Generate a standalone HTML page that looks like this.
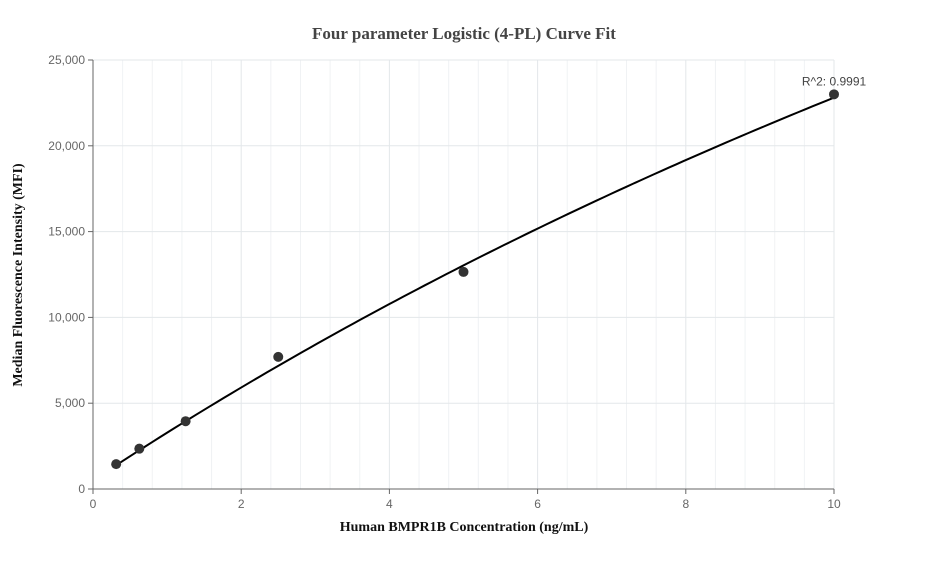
<!DOCTYPE html>
<html><head><meta charset="utf-8"><style>
body{margin:0;background:#fff;}
svg text{font-family:"Liberation Sans",sans-serif;}
</style></head><body>
<svg width="927" height="560" xmlns="http://www.w3.org/2000/svg">
<text x="464" y="39" text-anchor="middle" style="font-family:'Liberation Serif',serif;font-weight:bold;font-size:17px" fill="#444">Four parameter Logistic (4-PL) Curve Fit</text>
<g id="grid"></g><g id="axes"></g><g id="marks"></g>
<text x="464" y="531" text-anchor="middle" style="font-family:'Liberation Serif',serif;font-weight:bold;font-size:14px" fill="#111">Human BMPR1B Concentration (ng/mL)</text>
<text transform="translate(22,275) rotate(-90)" text-anchor="middle" style="font-family:'Liberation Serif',serif;font-weight:bold;font-size:14px" fill="#111">Median Fluorescence Intensity (MFI)</text>
</svg>
<script>
const xData=[0.3125,0.625,1.25,2.5,5,10];
const yData=[1450,2350,3950,7700,12650,23000];
const xTicks=[0,2,4,6,8,10];
const yTicks=[0,5000,10000,15000,20000,25000];
const fitParams=[500,102000,35.5,1];// A(bottom), D(top), C, B
const r2Label="R^2: 0.9991";
const ns="http://www.w3.org/2000/svg";
const X0=93,X1=834,Y0=489,Y1=60;
const sx=v=>X0+(v-0)/(10-0)*(X1-X0);
const sy=v=>Y0-(v-0)/(25000-0)*(Y0-Y1);
function mk(t,a,p){const e=document.createElementNS(ns,t);for(const k in a)e.setAttribute(k,a[k]);p.appendChild(e);return e;}
const grid=document.getElementById('grid'),axes=document.getElementById('axes'),marks=document.getElementById('marks');
for(let i=0;i<25;i++){const v=i*0.4;if(Math.abs(v%2)<1e-6)continue;const l=mk('line',{x1:sx(v),x2:sx(v),y1:Y1,y2:Y0,stroke:'#f0f2f4','stroke-width':1},grid);
}
xTicks.forEach(v=>{if(v>0){const l=mk('line',{x1:sx(v),x2:sx(v),y1:Y1,y2:Y0,stroke:'#e3e7ea','stroke-width':1},grid);
}
mk('line',{x1:sx(v),x2:sx(v),y1:Y0,y2:Y0+5,stroke:'#666'},axes);
const t=mk('text',{x:sx(v),y:Y0+19,'text-anchor':'middle','font-size':12,fill:'#666'},axes);t.textContent=v;
});
yTicks.forEach(v=>{if(v>0){const l=mk('line',{x1:X0,x2:X1,y1:sy(v),y2:sy(v),stroke:'#e3e7ea','stroke-width':1},grid);
}
mk('line',{x1:X0-5,x2:X0,y1:sy(v),y2:sy(v),stroke:'#666'},axes);
const t=mk('text',{x:X0-8,y:sy(v)+4,'text-anchor':'end','font-size':12,fill:'#666'},axes);t.textContent=v.toLocaleString('en-US');
});
const ya=mk('line',{x1:X0,x2:X0,y1:Y1,y2:Y0,stroke:'#666'},axes);
const xa=mk('line',{x1:X0,x2:X1,y1:Y0,y2:Y0,stroke:'#666'},axes);
const [A,D,C,B]=fitParams;const f=x=>D+(A-D)/(1+Math.pow(x/C,B));
let d='';const x0=xData[0],xn=xData[xData.length-1];
for(let i=0;i<=100;i++){const x=x0+(xn-x0)*i/100;d+=(i?'L':'M')+sx(x).toFixed(2)+','+sy(f(x)).toFixed(2);}
const c=mk('path',{d:d,fill:'none',stroke:'#000','stroke-width':2},marks);

xData.forEach((x,i)=>{const p=mk('circle',{cx:sx(x),cy:sy(yData[i]),r:5,fill:'#333'},marks);
});
const r=mk('text',{x:sx(xn),y:sy(yData[yData.length-1])-9,'text-anchor':'middle','font-size':12,fill:'#444'},marks);r.textContent=r2Label;

</script>
</body></html>
